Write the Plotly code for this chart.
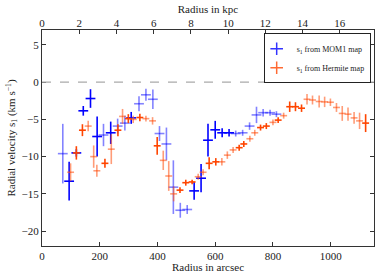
import plotly.graph_objects as go

# MOM1 series (radius in arcsec, s1 in km/s, error, group flag: 1 = solid, 0 = faint)
mom1_r = [72, 94, 119, 143, 168, 191, 213, 238, 262, 287, 309, 336, 360, 384, 407, 431,
          455, 479, 503, 527, 551, 575, 600, 624, 648, 671, 695, 719, 743, 766, 790, 812]
mom1_s1 = [-9.6, -13.3, -9.5, -3.85, -2.2, -7.3, -7.1, -6.8, -5.9, -5.5, -4.8, -2.9, -1.7, -2.3,
           -6.9, -8.3, -14.1, -17.2, -17.1, -14.6, -12.9, -7.8, -6.4, -6.8, -6.8, -6.9, -6.8,
           -5.9, -4.4, -4.1, -4.1, -4.3]
mom1_err = [4.0, 2.6, 0.5, 0.65, 1.25, 2.7, 1.5, 1.5, 1.0, 1.0, 0.8, 1.0, 0.8, 1.3,
            1.0, 2.2, 3.6, 1.0, 0.6, 1.2, 1.9, 2.2, 1.2, 0.6, 0.5, 0.4, 0.4,
            0.5, 1.1, 0.5, 0.4, 0.4]
mom1_grp = [0, 1, 1, 1, 1, 1, 0, 1, 0, 0, 1, 0, 0, 0, 0, 0,
            0, 0, 0, 1, 1, 1, 1, 1, 1, 0, 0, 0, 0, 0, 0, 0]
mom1_rerr = 17

# Hermite series
herm_r = [99, 119, 140, 160, 179, 190, 218, 240, 263, 279, 299, 316, 339, 360, 383, 399,
          420, 439, 456, 478, 498, 520, 541, 558, 579, 602, 623, 642, 662, 683, 699, 720,
          737, 757, 777, 800, 818, 837, 858, 878, 899, 918, 937, 960, 979, 999, 1020, 1040,
          1060, 1081, 1100, 1121]
herm_s1 = [-12.1, -9.5, -6.45, -5.9, -10.0, -11.9, -10.9, -9.0, -6.45, -4.6, -4.9, -5.0,
           -4.75, -4.9, -5.2, -8.55, -10.5, -12.6, -15.0, -14.5, -13.5, -13.4, -12.7, -12.1,
           -10.9, -10.7, -10.7, -9.8, -9.1, -8.8, -8.3, -7.6, -6.8, -6.1, -5.9, -5.4, -5.1,
           -4.5, -3.3, -3.3, -3.5, -2.3, -2.4, -2.6, -2.65, -2.7, -3.4, -4.2, -4.3, -4.8,
           -5.2, -5.5]
herm_err = [1.2, 0.9, 0.8, 0.7, 1.5, 0.8, 0.6, 2.0, 0.8, 1.0, 0.6, 0.5, 0.5, 0.4, 0.5, 1.2,
            1.3, 2.0, 1.0, 0.4, 0.4, 0.3, 0.4, 0.4, 0.8, 0.5, 0.5, 0.5, 0.4, 0.4, 0.4, 0.4,
            0.4, 0.4, 0.4, 0.4, 0.4, 0.4, 0.7, 0.6, 0.5, 0.7, 0.6, 0.8, 0.7, 0.5, 0.6, 1.0,
            0.9, 0.8, 1.1, 1.2]
herm_grp = [0, 1, 1, 0, 0, 0, 1, 0, 1, 0, 1, 0, 1, 0, 0, 1,
            0, 0, 0, 1, 1, 1, 0, 0, 1, 1, 0, 0, 0, 1, 1, 0,
            0, 1, 1, 0, 1, 0, 1, 1, 1, 0, 0, 0, 0, 0, 0, 0,
            0, 0, 0, 1]
herm_rerr = 12

kpc_per_arcsec = 0.01551
x_max = 1150

fig = go.Figure()

def add_series(r, s, e, g, rerr, solid, faint):
    for flag, col in ((0, faint), (1, solid)):
        xs = [a for a, f in zip(r, g) if f == flag]
        ys = [b for b, f in zip(s, g) if f == flag]
        es = [c for c, f in zip(e, g) if f == flag]
        fig.add_trace(go.Scatter(
            x=xs, y=ys, mode="markers",
            marker=dict(size=1, color=col),
            error_y=dict(type="data", array=es, color=col, thickness=1.6, width=0),
            error_x=dict(type="constant", value=rerr, color=col, thickness=1.6, width=0),
            showlegend=False, hoverinfo="skip"))

add_series(mom1_r, mom1_s1, mom1_err, mom1_grp, mom1_rerr, "#0000ff", "rgba(30,30,255,0.55)")
add_series(herm_r, herm_s1, herm_err, herm_grp, herm_rerr, "#ff4500", "rgba(255,90,30,0.6)")

# legend entries
for name, col in (("s<sub>1</sub> from MOM1 map", "#3333ff"),
                  ("s<sub>1</sub> from Hermite map", "#ff6a33")):
    fig.add_trace(go.Scatter(
        x=[None], y=[None], mode="markers", name=name,
        marker=dict(symbol="cross-thin", size=9, line=dict(width=1.5, color=col), color=col)))

# invisible trace for top axis
fig.add_trace(go.Scatter(x=[0, x_max * kpc_per_arcsec], y=[None, None], xaxis="x2",
                         mode="markers", showlegend=False, hoverinfo="skip"))

FAM = "Liberation Serif, Times New Roman, serif"
font = dict(family=FAM, size=11, color="#222")

fig.add_shape(type="line", xref="paper", x0=0, x1=1, yref="y", y0=0, y1=0,
              line=dict(color="#aaaaaa", width=1.3, dash="dash"))

fig.update_layout(
    width=382, height=273,
    margin=dict(l=42, r=8, t=30, b=27),
    paper_bgcolor="white", plot_bgcolor="white",
    font=font,
    xaxis=dict(range=[0, x_max], tickvals=[0, 200, 400, 600, 800, 1000], automargin=False,
               ticks="inside", ticklen=4, tickcolor="#333", showgrid=False, zeroline=False,
               showline=True, linecolor="#333", linewidth=1.2, mirror=True,
               title=dict(text="Radius in arcsec", standoff=1, font=font), tickfont=font),
    xaxis2=dict(range=[0, x_max * kpc_per_arcsec], overlaying="x", side="top", automargin=False,
                tickvals=[0, 2, 4, 6, 8, 10, 12, 14, 16], ticks="inside", ticklen=4,
                tickcolor="#333", showgrid=False, zeroline=False, anchor="y",
                title=dict(text="Radius in kpc", standoff=0, font=font), tickfont=font),
    yaxis=dict(range=[-22, 7], tickvals=[-20, -15, -10, -5, 0, 5], ticks="inside", automargin=False,
               ticklen=4, tickcolor="#333", showgrid=False, zeroline=False,
               showline=True, linecolor="#333", linewidth=1.2, mirror="ticks",
               title=dict(text="Radial velocity s<sub>1</sub> (km s<sup>−1</sup>)", standoff=3,
                          font=font),
               tickfont=font),
    legend=dict(x=0.99, y=0.985, xanchor="right", yanchor="top",
                bordercolor="#222", borderwidth=1, bgcolor="white",
                font=dict(family=FAM, size=8, color="#222"),
                tracegroupgap=0, itemwidth=30, indentation=-8),
)

fig.write_html("out.html", config={"displayModeBar": False},
               post_script="document.body.style.margin='0';document.body.style.overflow='hidden';")
